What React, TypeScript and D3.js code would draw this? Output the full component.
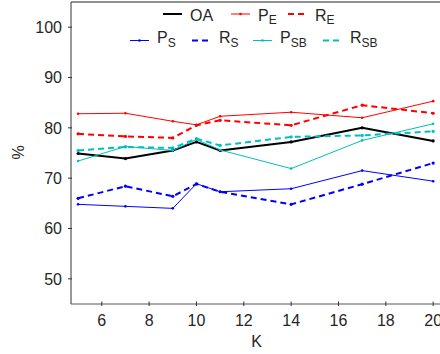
import React from "react";
import * as d3 from "d3";

const kValues = [5, 7, 9, 10, 11, 14, 17, 20];
const oa = [74.9, 73.9, 75.5, 77.2, 75.5, 77.2, 80.0, 77.4];
const pE = [82.8, 82.9, 81.3, 80.6, 82.3, 83.1, 82.0, 85.3];
const rE = [78.8, 78.3, 78.0, 80.5, 81.5, 80.5, 84.5, 82.9];
const pS = [64.8, 64.4, 64.0, 68.9, 67.3, 67.9, 71.5, 69.4];
const rS = [66.0, 68.4, 66.4, 68.85, 67.3, 64.8, 68.8, 73.0];
const pSB = [73.4, 76.3, 75.5, 77.7, 75.6, 71.9, 77.5, 80.8];
const rSB = [75.5, 76.2, 76.0, 77.85, 76.5, 78.2, 78.5, 79.3];

const xTicks = [6, 8, 10, 12, 14, 16, 18, 20];
const yTicks = [50, 60, 70, 80, 90, 100];

const seriesNames = ["OA", "PE", "RE", "PS", "RS", "PSB", "RSB"];
const labelMain = ["OA", "P", "R", "P", "R", "P", "R"];
const labelSub = ["", "E", "E", "S", "S", "SB", "SB"];
const seriesValues = [oa, pE, rE, pS, rS, pSB, rSB];

// styles per series
const colors = ["#000000", "#ff0000", "#ff0000", "#0000ff", "#0000ff", "#00bfbf", "#00bfbf"];
const widths = [2, 1, 2, 1, 2, 1, 2];
const dashes = ["", "", "6,4", "", "6,4", "", "6,4"];

// legend layout: row and line start x for each entry
const legendRow = [0, 0, 0, 1, 1, 1, 1];
const legendX = [163, 231, 288, 130, 192, 253, 323];

const font = "'Liberation Sans', Arial, sans-serif";
const textColor = "#262626";

const App: React.FC = () => {
	const width = 440;
	const height = 354;
	const left = 71;
	const top = 2;
	const bottom = 304;

	const x = d3.scaleLinear().domain([4.7, 20.5]).range([left, 445]);
	const y = d3.scaleLinear().domain([45, 105]).range([bottom, top]);

	const line = d3
		.line<number>()
		.x((_, i) => x(kValues[i]))
		.y((d) => y(d));

	const rowLineY = [14, 40.5];
	const rowBase = [20.5, 43];

	return (
		<div style={{ position: "fixed", left: 0, top: 0 }}>
			<svg width={width} height={height} style={{ display: "block", background: "#fff" }}>
				{/* frame */}
				<line x1={left} x2={width} y1={top} y2={top} stroke="#222" strokeWidth={1} />
				<line x1={left} x2={left} y1={top} y2={bottom} stroke="#333" strokeWidth={1} />
				<line x1={left} x2={width} y1={bottom} y2={bottom} stroke="#555" strokeWidth={1} />

				{/* y axis */}
				{yTicks.map((t) => (
					<g key={"y" + t}>
						<line x1={left - 3} x2={left + 1} y1={y(t)} y2={y(t)} stroke="#333" />
						<text
							x={62}
							y={y(t)}
							dy="0.36em"
							textAnchor="end"
							fontFamily={font}
							fontSize={16}
							fill={textColor}
						>
							{t}
						</text>
					</g>
				))}

				{/* x axis */}
				{xTicks.map((t) => (
					<g key={"x" + t}>
						<line x1={x(t)} x2={x(t)} y1={bottom - 2.5} y2={bottom + 2} stroke="#333" />
						<text x={x(t)} y={325.7} textAnchor="middle" fontFamily={font} fontSize={16} fill={textColor}>
							{t}
						</text>
					</g>
				))}

				<text x={256.7} y={346.5} textAnchor="middle" fontFamily={font} fontSize={16} fill={textColor}>
					K
				</text>
				<text
					transform="translate(24,152.5) rotate(-90)"
					textAnchor="middle"
					fontFamily={font}
					fontSize={16}
					fill={textColor}
				>
					%
				</text>

				{/* series */}
				{seriesValues.map((vals, i) => (
					<g key={seriesNames[i]}>
						<path
							d={line(vals) || ""}
							fill="none"
							stroke={colors[i]}
							strokeWidth={widths[i]}
							strokeDasharray={dashes[i] || undefined}
							strokeLinejoin="round"
						/>
						{vals.map((v, j) => (
							<circle key={j} cx={x(kValues[j])} cy={y(v)} r={widths[i] > 1 ? 1.6 : 1.3} fill={colors[i]} />
						))}
					</g>
				))}

				{/* legend */}
				{seriesNames.map((name, i) => {
					const r = legendRow[i];
					const lx = legendX[i];
					return (
						<g key={"leg" + name}>
							<line
								x1={lx}
								x2={lx + 19}
								y1={rowLineY[r]}
								y2={rowLineY[r]}
								stroke={colors[i]}
								strokeWidth={widths[i]}
								strokeDasharray={dashes[i] || undefined}
							/>
							{widths[i] === 1 && <circle cx={lx + 9.5} cy={rowLineY[r]} r={1.3} fill={colors[i]} />}
							<text x={lx + 27} y={rowBase[r]} fontFamily={font} fontSize={16} fill={textColor}>
								{labelMain[i]}
								{labelSub[i] && (
									<tspan fontSize={12} dy={3.5}>
										{labelSub[i]}
									</tspan>
								)}
							</text>
						</g>
					);
				})}
			</svg>
		</div>
	);
};

export default App;
